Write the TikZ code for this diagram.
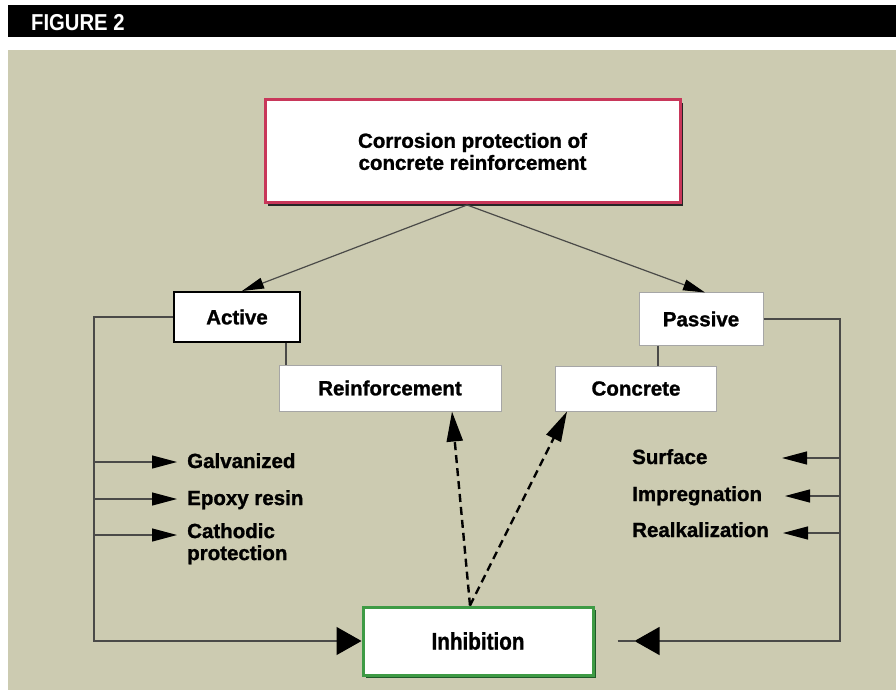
\documentclass[tikz,border=0pt]{standalone}
\usepackage{fontspec}
\setmainfont{Liberation Sans}[BoldFeatures={FakeBold=1.2}]
\newfontfamily\figfont{Liberation Sans Bold}
\usetikzlibrary{arrows.meta,shadows,calc}
\definecolor{bgbeige}{HTML}{CCCBB1}
\definecolor{redborder}{HTML}{C8375A}
\definecolor{greenborder}{HTML}{3E9B45}
\definecolor{greenshadow}{HTML}{1E5A28}
\definecolor{linegray}{HTML}{4A4A48}
\tikzset{
  lbl/.style={font=\fontsize{20.5}{22}\selectfont\bfseries, text=black},
  box/.style={fill=white, inner sep=0pt, lbl},
  thinbox/.style={box, draw=gray!70, line width=1pt},
  conn/.style={draw=linegray, line width=1.2pt},
  smalltip/.style={-{Triangle[length=25pt,width=13pt,black]}},
  bigtip/.style={-{Triangle[length=25pt,width=28pt,black]}},
  toptip/.style={-{Triangle[length=22pt,width=11pt,black]}},
  dashconn/.style={draw=black, line width=2.4pt, dash pattern=on 8pt off 5pt,
     -{Triangle[length=30pt,width=16pt]}},
  item/.style={lbl, anchor=base west, inner sep=0pt, align=left}
}
\begin{document}
\begin{tikzpicture}[x=1pt,y=-1pt]
\useasboundingbox (0,0) rectangle (896,700);
\fill[white] (0,0) rectangle (896,700);
\fill[black] (8,5) rectangle (896,37);
\fill[bgbeige] (8,50) rectangle (896,690);
\node[anchor=base west, inner sep=0pt, text=white]
      (fig) at (31,31) {\scalebox{0.88}[1]{\fontsize{23}{24}\figfont FIGURE 2}};

% boxes
\node[box, draw=redborder, line width=3pt, minimum width=415pt, minimum height=103pt,
      align=center, drop shadow={shadow xshift=3pt, shadow yshift=-3pt, fill=black!85, opacity=1}]
      (top) at (472.5,151.5) {Corrosion protection of\\concrete reinforcement};
\node[box, draw=black, line width=2pt, minimum width=126pt, minimum height=50pt]
      (active) at (237,317) {Active};
\node[thinbox, minimum width=124pt, minimum height=52pt] (passive) at (701,319) {Passive};
\node[thinbox, minimum width=222pt, minimum height=46pt] (reinf) at (390,388) {Reinforcement};
\node[thinbox, minimum width=161pt, minimum height=45pt] (concrete) at (636,388.5) {Concrete};
\node[box, draw=greenborder, line width=3pt, minimum width=230pt, minimum height=68pt,
      drop shadow={shadow xshift=3pt, shadow yshift=-3pt, fill=greenshadow, opacity=1}]
      (inhib) at (478,641) {\scalebox{0.86}[1]{\fontsize{24}{26}\selectfont\bfseries Inhibition}};

% top connectors
\coordinate (j) at (467,205);
\draw[conn, toptip] (j) -- ([xshift=5pt]active.north);
\draw[conn, toptip] (j) -- ([xshift=4pt]passive.north);

% vertical links
\draw[conn] ([xshift=49pt]active.south) -- ([xshift=49pt]active.south |- reinf.north);
\draw[conn] ([xshift=-43pt]passive.south) -- ([xshift=-43pt]passive.south |- concrete.north);

% left side
\coordinate (lcorner) at (94,641);
\draw[conn, bigtip] (active.west) -| (lcorner) -- (inhib.west);
\node[item] (gal) at (187,468) {Galvanized};
\node[item] (epo) at (187,505) {Epoxy resin};
\node[item, anchor=north west] (cat) at (187,523) {Cathodic\\protection};
\coordinate (lg) at (94,462);
\coordinate (le) at (94,499);
\coordinate (lk) at (94,535);
\coordinate (tg) at (177,462);
\coordinate (te) at (177,499);
\coordinate (tk) at (177,535);
\draw[conn, smalltip] (lg) -- (tg);
\draw[conn, smalltip] (le) -- (te);
\draw[conn, smalltip] (lk) -- (tk);

% right side
\coordinate (rcorner) at (840,641);
\draw[conn, bigtip] (passive.east) -| (rcorner) -- ([xshift=40pt]inhib.east);
\draw[conn] ([xshift=23pt]inhib.east) -- ([xshift=40pt]inhib.east);
\node[item] (sur) at (632,464) {Surface};
\node[item] (imp) at (632,501) {Impregnation};
\node[item] (rea) at (632,537) {Realkalization};
\coordinate (rs) at (840,458);
\coordinate (ri) at (840,496);
\coordinate (rr) at (840,533);
\coordinate (ts) at (782,458);
\coordinate (ti) at (785,496);
\coordinate (tr) at (783,533);
\draw[conn, smalltip] (rs) -- (ts);
\draw[conn, smalltip] (ri) -- (ti);
\draw[conn, smalltip] (rr) -- (tr);

% dashed arrows
\draw[dashconn] ([xshift=-8pt]inhib.north) -- ([xshift=62pt]reinf.south);
\draw[dashconn] ([xshift=-8pt]inhib.north) -- ([xshift=-69pt]concrete.south);
\end{tikzpicture}
\end{document}
